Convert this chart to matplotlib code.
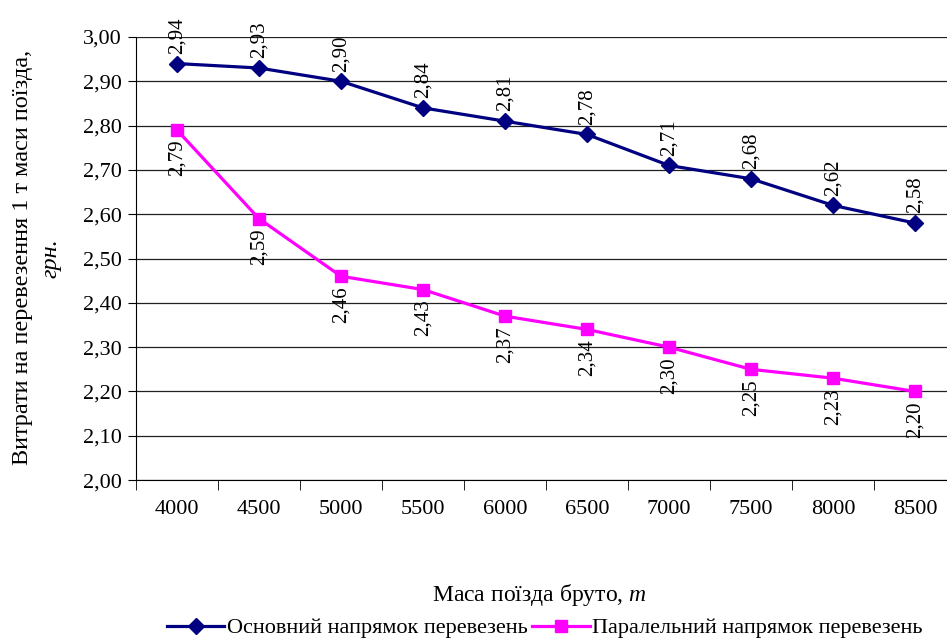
import matplotlib
matplotlib.use('Agg')
import matplotlib.pyplot as plt

plt.rcParams['font.family'] = ['Liberation Serif', 'DejaVu Serif']
plt.rcParams['mathtext.fontset'] = 'custom'
plt.rcParams['mathtext.rm'] = 'Liberation Serif'
plt.rcParams['mathtext.it'] = 'Liberation Serif:italic'

masses = ['4000', '4500', '5000', '5500', '6000', '6500', '7000', '7500', '8000', '8500']
main_costs = [2.94, 2.93, 2.90, 2.84, 2.81, 2.78, 2.71, 2.68, 2.62, 2.58]
parallel_costs = [2.79, 2.59, 2.46, 2.43, 2.37, 2.34, 2.30, 2.25, 2.23, 2.20]
yticks = [2.0, 2.1, 2.2, 2.3, 2.4, 2.5, 2.6, 2.7, 2.8, 2.9, 3.0]

fig = plt.figure(figsize=(9.47, 6.41), dpi=100)
ax = fig.add_axes([0.1436, 0.251, 0.866, 0.6913])

x = list(range(len(masses)))
ax.plot(x, main_costs, color='#000080', lw=2.3, marker='D', ms=8,
        label='Основний напрямок перевезень')
ax.plot(x, parallel_costs, color='#FF00FF', lw=2.3, marker='s', ms=9,
        label='Паралельний напрямок перевезень')

for i, v in enumerate(main_costs):
    ax.annotate(f'{v:.2f}'.replace('.', ','), (i, v), xytext=(0, 7),
                textcoords='offset points', rotation=90, ha='center', va='bottom',
                fontsize=15)
for i, v in enumerate(parallel_costs):
    ax.annotate(f'{v:.2f}'.replace('.', ','), (i, v), xytext=(0, -7),
                textcoords='offset points', rotation=90, ha='center', va='top',
                fontsize=15)

ax.set_xlim(-0.5, len(masses) - 0.5)
ax.set_ylim(2.0, 3.0)
ax.set_yticks(yticks)
ax.set_yticklabels([f'{t:.2f}'.replace('.', ',') for t in yticks], fontsize=16)
ax.set_xticks(x)
ax.set_xticklabels(masses, fontsize=16)
ax.tick_params(axis='x', length=0, pad=14)
ax.set_xticks([i + 0.5 for i in x[:-1]] + [-0.5], minor=True)
ax.tick_params(axis='x', which='minor', length=7, direction='out', color='black')
ax.tick_params(axis='y', length=6, direction='out', pad=4)

ax.grid(axis='y', color='#202020', lw=0.9)
ax.set_axisbelow(True)
for s in ['top', 'right']:
    ax.spines[s].set_visible(False)
ax.spines['left'].set_color('black')
ax.spines['bottom'].set_color('black')

fig.text(0.024, 0.598, 'Витрати на перевезення 1 т маси поїзда,', rotation=90,
         ha='center', va='center', fontsize=17.5)
fig.text(0.054, 0.598, 'грн.', rotation=90, ha='center', va='center',
         fontsize=17.5, style='italic')
fig.text(0.57, 0.072, 'Маса поїзда бруто, $\\mathit{т}$', ha='center', va='center',
         fontsize=17)

fig.legend(loc='center', bbox_to_anchor=(0.575, 0.02), ncol=2, frameon=False,
           fontsize=16, handlelength=2.6, columnspacing=0.2, handletextpad=0.1,
           borderaxespad=0)

fig.savefig('out.png', dpi=100)
